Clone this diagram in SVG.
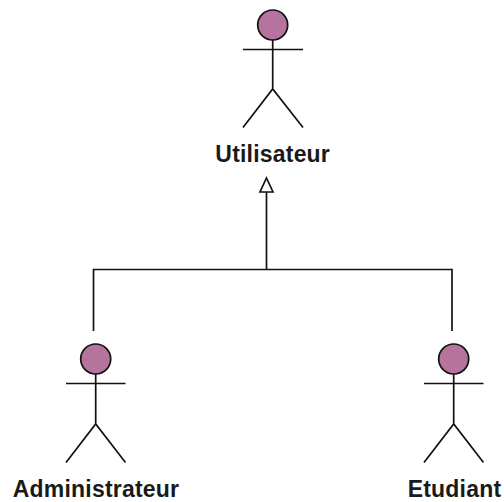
<svg xmlns="http://www.w3.org/2000/svg" width="504" height="502" viewBox="0 0 504 502">
<style>
.h{fill:#b5739d;stroke:#111;stroke-width:1.7}
.l{fill:none;stroke:#111;stroke-width:1.7}
.t{font-family:"Liberation Sans",Arial,sans-serif;font-size:23px;font-weight:bold;letter-spacing:0.2px;fill:#1a1a1a;text-anchor:middle}
</style>
<rect width="504" height="502" fill="#fff"/>
<g id="connectors">
<path class="l" d="M93.5 331V269.5H452V331M266.5 269.5V192"/>
<path d="M266.5 178L273 192H260Z" fill="#fff" stroke="#111" stroke-width="1.7"/>
</g>
<g id="utilisateur">
<circle class="h" cx="272.7" cy="25" r="15"/>
<path class="l" d="M272.7 40V89M243 49.5H303M243 127.5L272.7 89L303 127.5"/>
<text class="t" x="272.7" y="162">Utilisateur</text>
</g>
<g id="administrateur">
<circle class="h" cx="95.7" cy="359" r="15"/>
<path class="l" d="M95.7 374V424M66 383.5H125.5M66 462.5L95.7 424L125.5 462.5"/>
<text class="t" x="96" y="497">Administrateur</text>
</g>
<g id="etudiant">
<circle class="h" cx="453.7" cy="359" r="15"/>
<path class="l" d="M453.7 374V424M424 383.5H483.5M424 462.5L453.7 424L483.5 462.5"/>
<text class="t" x="454.5" y="497">Etudiant</text>
</g>
</svg>
